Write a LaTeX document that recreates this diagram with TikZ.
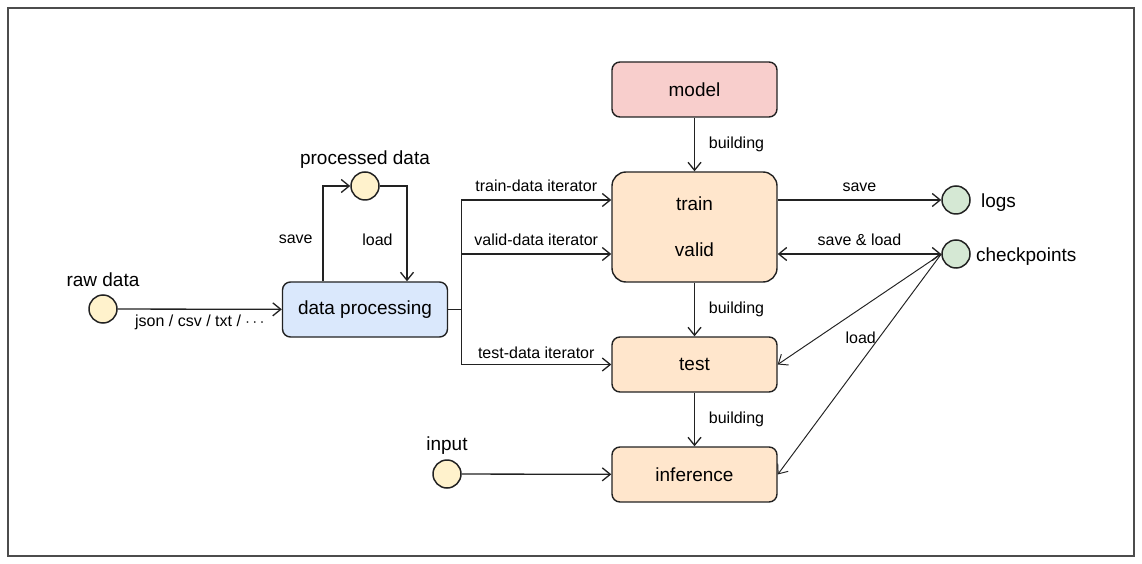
\documentclass[tikz,border=0pt]{standalone}
\usepackage{fontspec}
\setmainfont{Liberation Sans}
\usetikzlibrary{arrows.meta,positioning}
\definecolor{procblue}{HTML}{DAE8FC}
\definecolor{modelred}{HTML}{F8CECC}
\definecolor{runorange}{HTML}{FFE6CC}
\definecolor{datayellow}{HTML}{FFF2CC}
\definecolor{storegreen}{HTML}{D5E8D4}
\definecolor{edge}{HTML}{222222}
\begin{document}
\begin{tikzpicture}[x=0.2mm,y=-0.2mm,
  >={Straight Barb[length=1.6mm,width=2.6mm]},
  link/.style={draw=edge,line width=0.75pt},
  thinlink/.style={draw=edge,line width=0.55pt},
  box/.style={draw=edge,line width=0.8pt,rounded corners=1.6mm,minimum width=33mm,
    minimum height=11mm,font=\fontsize{10.8}{12}\selectfont},
  dot/.style={circle,draw=edge,line width=0.85pt,minimum size=5.6mm,inner sep=0pt},
  lbl/.style={font=\fontsize{9.1}{10}\selectfont,inner sep=1pt},
  tag/.style={font=\fontsize{10.8}{12}\selectfont,inner sep=0pt}]
  \useasboundingbox (0,0) rectangle (1142,564);
  \draw[black!70,line width=1pt] (8,8) rectangle (1134,556);
  % boxes
  \node[box,fill=procblue] (proc) at (365,309.5) {data processing};
  \node[box,fill=modelred] (model) at (694.5,89.5) {model};
  \node[box,fill=runorange,minimum height=22mm,rounded corners=2.8mm,align=center,
    font=\fontsize{10.8}{26}\selectfont] (train) at (694.5,227) {train\\valid};
  \node[box,fill=runorange] (test) at (694.5,364.5) {test};
  \node[box,fill=runorange] (inf) at (694.5,474.5) {inference};
  % circles
  \node[dot,fill=datayellow] (raw) at (103,309) {};
  \node[dot,fill=datayellow] (pdata) at (365,186) {};
  \node[dot,fill=datayellow] (input) at (447,474) {};
  \node[dot,fill=storegreen] (logs) at (956,200) {};
  \node[dot,fill=storegreen] (ckpt) at (956,254) {};
  \node[tag,text depth=0pt,above=1.4mm of raw] (rawtag) {raw data};
  \node[tag,text depth=0pt,above=1.2mm of pdata] (pdatatag) {processed data};
  \node[tag,text depth=0pt,above=1.6mm of input] (inputtag) {input};
  \node[tag,right=2mm of logs,yshift=-0.6mm] (logstag) {logs};
  \node[tag,right=1mm of ckpt,yshift=-0.6mm] (ckpttag) {checkpoints};
  % data side
  \draw[link,->] (raw) -- (proc) node[lbl,midway,below=0.6mm] {json / csv / txt / $\cdots$};
  \draw[link,->] ([xshift=-8.4mm]proc.north) |- (pdata.west) node[lbl,pos=0.22,left=1.6mm] {save};
  \draw[link,->] (pdata.east) -| ([xshift=8.4mm]proc.north) node[lbl,pos=0.78,left=2.4mm] {load};
  \coordinate (split) at ([xshift=2.6mm]proc.east);
  \draw[link] (proc.east) -- (split);
  \draw[link,->] (split) |- ([yshift=5.4mm]train.west) node[lbl,pos=0.75,above=1.1mm] {train-data iterator};
  \draw[link,->] (split) |- ([yshift=-5.4mm]train.west) node[lbl,pos=0.75,above=1.1mm] {valid-data iterator};
  \draw[link,->] (split) |- (test.west) node[lbl,pos=0.75,above=0.6mm] {test-data iterator};
  % model side
  \draw[link,->] (model) -- (train) node[lbl,midway,right=2.4mm] {building};
  \draw[link,->] (train) -- (test) node[lbl,midway,right=2.4mm] {building};
  \draw[link,->] (test) -- (inf) node[lbl,midway,right=2.4mm] {building};
  \draw[link,->] (input) -- (inf);
  \draw[link,->] (train.east |- logs.west) -- (logs.west) node[lbl,midway,above=1.1mm] {save};
  \draw[link,<->] (train.east |- ckpt.west) -- (ckpt.west) node[lbl,midway,above=1.1mm] {save \& load};
  \draw[thinlink,->] (ckpt.west) -- (test.east);
  \draw[thinlink,->] (ckpt.west) -- (inf.east) node[lbl,pos=0.38,left=0.2mm] {load};
\end{tikzpicture}
\end{document}
